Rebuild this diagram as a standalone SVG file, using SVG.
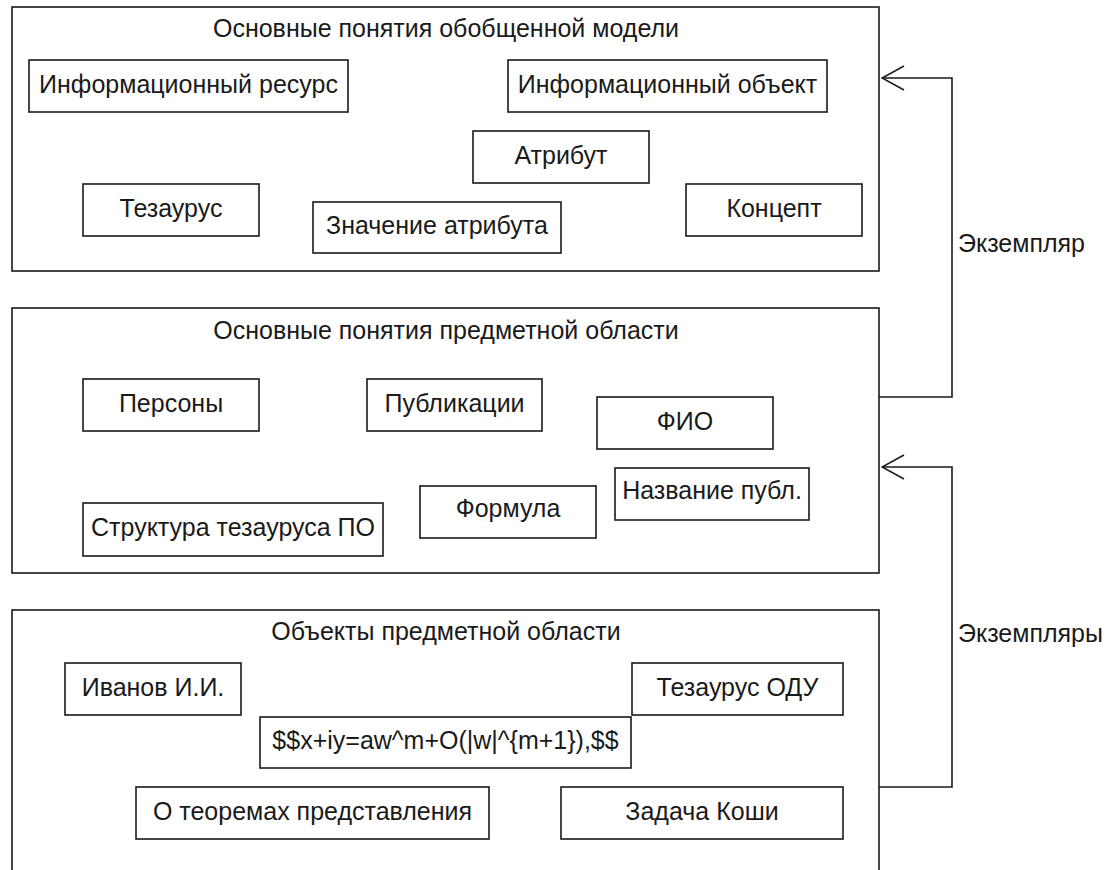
<svg xmlns="http://www.w3.org/2000/svg" width="1115" height="870" viewBox="0 0 1115 870">
<style>
rect{fill:#fff;stroke:#1a1a1a;stroke-width:1.6}
text{font-family:"Liberation Sans",Arial,sans-serif;font-size:25px;fill:#1a1a1a;text-anchor:middle}
.lbl{text-anchor:start}
.conn{fill:none;stroke:#1a1a1a;stroke-width:1.6}
</style>
<defs>
<marker id="open" viewBox="0 0 24 28" refX="23" refY="14" markerWidth="24" markerHeight="28" markerUnits="userSpaceOnUse" orient="auto">
<path d="M1,2 L23,14 L1,26" fill="none" stroke="#1a1a1a" stroke-width="1.6"/>
</marker>
</defs>
<rect x="0" y="0" width="1115" height="870" style="stroke:none"/>
<g id="c1">
<rect x="12" y="7" width="867" height="264"/>
<text x="446" y="37">Основные понятия обобщенной модели</text>
</g>
<g id="n-res"><rect x="29" y="60" width="319" height="52"/><text x="188.5" y="93">Информационный ресурс</text></g>
<g id="n-obj"><rect x="508" y="60" width="319" height="52"/><text x="667.5" y="93">Информационный объект</text></g>
<g id="n-attr"><rect x="473" y="131" width="176" height="52"/><text x="561" y="164">Атрибут</text></g>
<g id="n-thes"><rect x="83" y="184" width="176" height="52"/><text x="171" y="217">Тезаурус</text></g>
<g id="n-val"><rect x="313" y="202" width="248" height="51"/><text x="437" y="234">Значение атрибута</text></g>
<g id="n-conc"><rect x="686" y="184" width="176" height="52"/><text x="774" y="217">Концепт</text></g>

<g id="c2">
<rect x="12" y="308" width="867" height="265"/>
<text x="446" y="339">Основные понятия предметной области</text>
</g>
<g id="n-pers"><rect x="83" y="379" width="176" height="52"/><text x="171" y="412">Персоны</text></g>
<g id="n-pub"><rect x="367" y="379" width="175" height="52"/><text x="454.5" y="412">Публикации</text></g>
<g id="n-fio"><rect x="597" y="397" width="176" height="52"/><text x="685" y="430">ФИО</text></g>
<g id="n-struct"><rect x="83" y="503" width="300" height="53"/><text x="233" y="536">Структура тезауруса ПО</text></g>
<g id="n-form"><rect x="420" y="486" width="176" height="52"/><text x="508" y="517">Формула</text></g>
<g id="n-title"><rect x="615" y="468" width="194" height="52"/><text x="712" y="499">Название публ.</text></g>

<g id="c3">
<rect x="12" y="610" width="867" height="290"/>
<text x="446" y="640">Объекты предметной области</text>
</g>
<g id="n-ivanov"><rect x="65" y="663" width="176" height="52"/><text x="153" y="696">Иванов И.И.</text></g>
<g id="n-eq"><rect x="260" y="717" width="371" height="51"/><text x="445.5" y="749">$$x+iy=aw^m+O(|w|^{m+1}),$$</text></g>
<g id="n-theor"><rect x="136" y="787" width="353" height="52"/><text x="312.5" y="820">О теоремах представления</text></g>
<g id="n-ode"><rect x="632" y="663" width="211" height="52"/><text x="737.5" y="696">Тезаурус ОДУ</text></g>
<g id="n-cauchy"><rect x="561" y="787" width="282" height="52"/><text x="702" y="820">Задача Коши</text></g>

<g id="connectors">
<path class="conn" d="M879,397 H952 V78 H882" marker-end="url(#open)"/>
<text class="lbl" x="958" y="252">Экземпляр</text>
<path class="conn" d="M879,787 H952 V467 H882" marker-end="url(#open)"/>
<text class="lbl" x="958" y="642">Экземпляры</text>
</g>
</svg>
